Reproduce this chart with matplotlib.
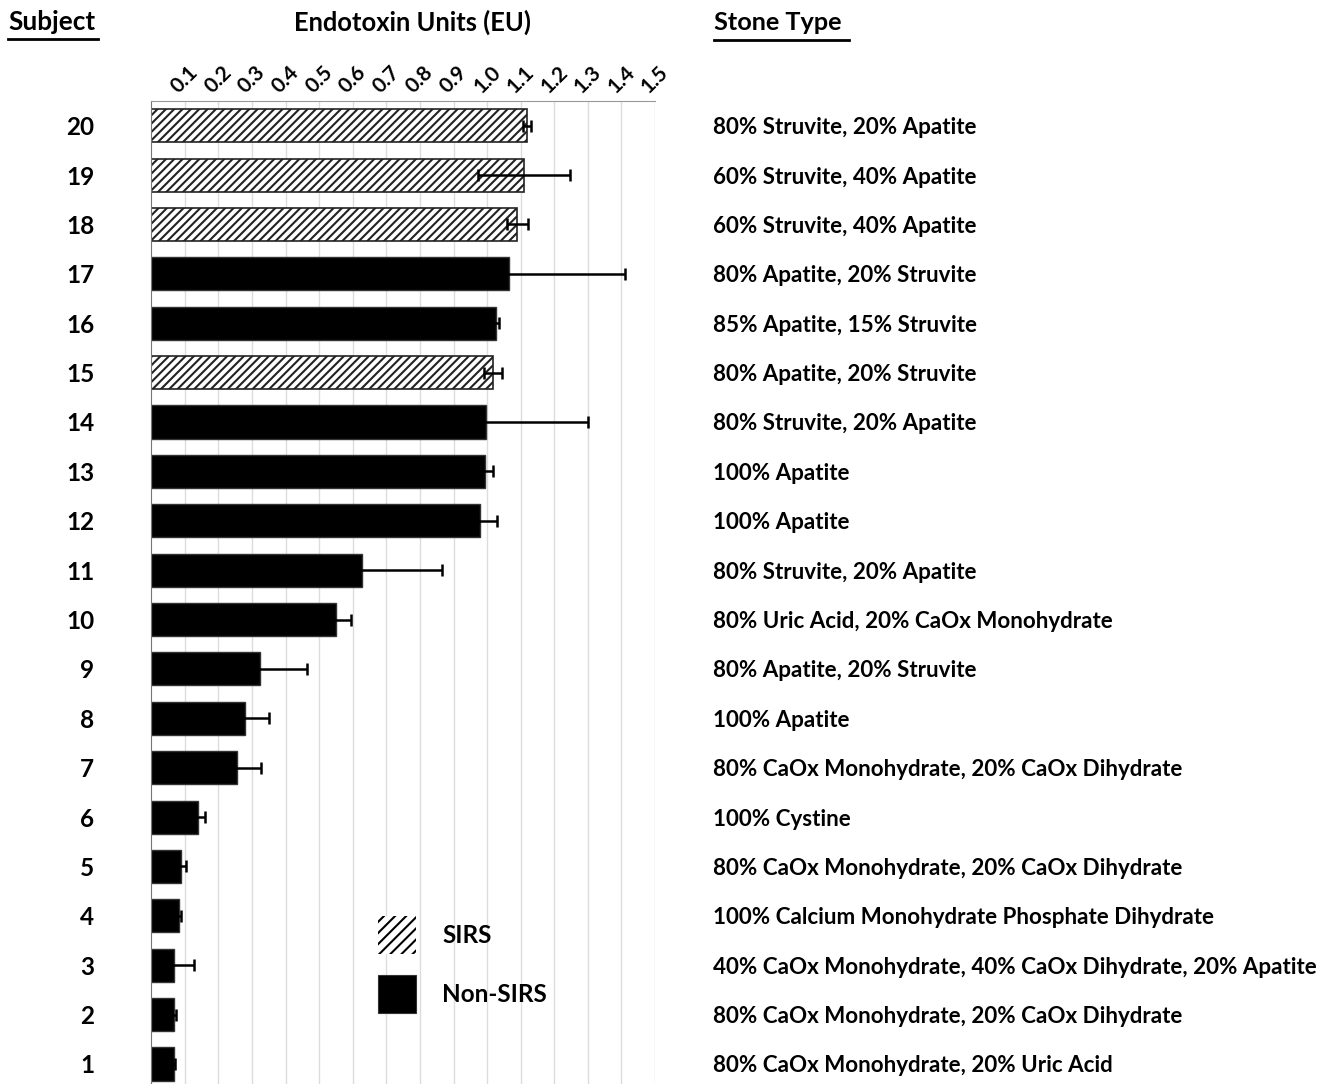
import numpy as np
import matplotlib
matplotlib.use('Agg')
import matplotlib.pyplot as plt
import matplotlib.transforms as mtransforms
from matplotlib.lines import Line2D
from matplotlib.patches import Patch

plt.rcParams['font.family'] = ['Lato', 'DejaVu Sans']
plt.rcParams['font.weight'] = 'bold'
plt.rcParams['hatch.linewidth'] = 1.5

subjects = list(range(1, 21))
endotoxin = [0.067, 0.067, 0.069, 0.082, 0.087, 0.139, 0.254, 0.278, 0.324, 0.549,
             0.627, 0.978, 0.993, 0.998, 1.018, 1.027, 1.066, 1.090, 1.109, 1.120]
error = [0.005, 0.006, 0.057, 0.006, 0.015, 0.022, 0.072, 0.072, 0.141, 0.047,
         0.240, 0.050, 0.025, 0.303, 0.027, 0.008, 0.346, 0.032, 0.137, 0.012]
sirs = [False, False, False, False, False, False, False, False, False, False,
        False, False, False, False, True, False, False, True, True, True]
stone_types = [
    '80% CaOx Monohydrate, 20% Uric Acid',
    '80% CaOx Monohydrate, 20% CaOx Dihydrate',
    '40% CaOx Monohydrate, 40% CaOx Dihydrate, 20% Apatite',
    '100% Calcium Monohydrate Phosphate Dihydrate',
    '80% CaOx Monohydrate, 20% CaOx Dihydrate',
    '100% Cystine',
    '80% CaOx Monohydrate, 20% CaOx Dihydrate',
    '100% Apatite',
    '80% Apatite, 20% Struvite',
    '80% Uric Acid, 20% CaOx Monohydrate',
    '80% Struvite, 20% Apatite',
    '100% Apatite',
    '100% Apatite',
    '80% Struvite, 20% Apatite',
    '80% Apatite, 20% Struvite',
    '85% Apatite, 15% Struvite',
    '80% Apatite, 20% Struvite',
    '60% Struvite, 40% Apatite',
    '60% Struvite, 40% Apatite',
    '80% Struvite, 20% Apatite',
]
x_ticks = [0.1, 0.2, 0.3, 0.4, 0.5, 0.6, 0.7, 0.8, 0.9, 1.0, 1.1, 1.2, 1.3, 1.4, 1.5]

W, H = 1331, 1084
fig = plt.figure(figsize=(W / 100, H / 100), dpi=100)
ax = fig.add_axes([151.3 / W, 0, (655 - 151.3) / W, 1 - 101 / H])

for s, v, e, is_sirs in zip(subjects, endotoxin, error, sirs):
    if is_sirs:
        ax.barh(s, v, height=0.67, color='white', edgecolor='#222222',
                hatch='////', linewidth=1.2, zorder=2)
    else:
        ax.barh(s, v, height=0.67, color='black', edgecolor='#333333',
                linewidth=1, zorder=2)
ax.errorbar(endotoxin, subjects, xerr=error, fmt='none', ecolor='black',
            elinewidth=1.8, capsize=4, capthick=1.8, zorder=3)

ax.set_xlim(0, 1.5)
ax.set_ylim(0.595, 20.5)
ax.set_xticks(x_ticks)
ax.set_xticklabels([f'{t:.1f}' for t in x_ticks], rotation=45,
                   ha='center', va='bottom', fontsize=15, fontweight='bold')
ax.xaxis.tick_top()
ax.tick_params(axis='x', length=0, pad=3)
ax.set_yticks(subjects)
ax.set_yticklabels([str(s) for s in subjects], fontsize=17.5, fontweight='bold')
ax.tick_params(axis='y', length=0, pad=41)
ax.grid(axis='x', color='#dcdcdc', linewidth=1)
ax.set_axisbelow(True)
for side in ['right', 'bottom']:
    ax.spines[side].set_visible(False)
ax.spines['left'].set_color('#777777')
ax.spines['top'].set_color('#999999')

# stone composition column
trans = mtransforms.blended_transform_factory(fig.transFigure, ax.transData)
for s, label in zip(subjects, stone_types):
    ax.text(713 / W, s, label, transform=trans, ha='left', va='center_baseline',
            fontsize=16.1, fontweight='bold', clip_on=False)

# column headers
fig.text(52 / W, 1 - 22 / H, 'Subject', ha='center', va='center',
         fontsize=18.8, fontweight='bold')
fig.add_artist(Line2D([8 / W, 98 / W], [1 - 38.5 / H, 1 - 38.5 / H],
                      transform=fig.transFigure, color='black', linewidth=2))
fig.text(413 / W, 1 - 22 / H, 'Endotoxin Units (EU)', ha='center', va='center',
         fontsize=18.4, fontweight='bold')
fig.text(714 / W, 1 - 22 / H, 'Stone Type', ha='left', va='center',
         fontsize=18.2, fontweight='bold')
fig.add_artist(Line2D([714 / W, 849 / W], [1 - 40 / H, 1 - 40 / H],
                      transform=fig.transFigure, color='black', linewidth=2))

handles = [Patch(facecolor='white', edgecolor='black', hatch='///', linewidth=0),
           Patch(facecolor='black', edgecolor='#333333', linewidth=0.8)]
fig.legend(handles, ['SIRS', 'Non-SIRS'], loc='upper left',
           bbox_to_anchor=(378 / W, 1 - 916 / H), frameon=False,
           handlelength=1.57, handleheight=2.03,
           handletextpad=1.07, labelspacing=0.86, borderpad=0, borderaxespad=0,
           prop={'weight': 'bold', 'size': 17.5})

fig.savefig('out.png', dpi=100)
